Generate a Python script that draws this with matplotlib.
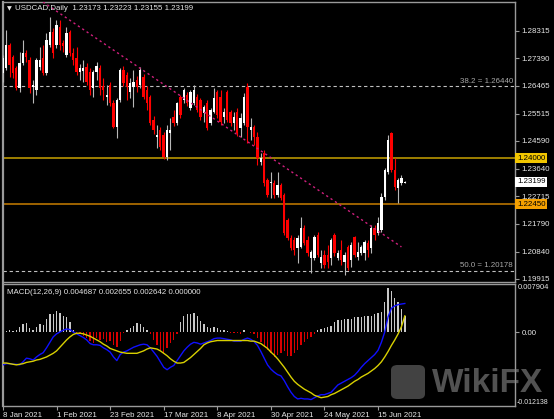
import matplotlib.pyplot as plt
import matplotlib.transforms as mtransforms
from matplotlib.patches import FancyBboxPatch
import numpy as np
import pandas as pd

plt.rcParams['font.family'] = ['Liberation Sans', 'DejaVu Sans']

# daily USDCAD candles, 8 Jan 2021 .. 25 Jun 2021
opens = [
    1.2689, 1.2706, 1.2784, 1.2743, 1.2706, 1.2638, 1.2723, 1.2757, 1.2733, 1.2642,
    1.2632, 1.2710, 1.2740, 1.2689, 1.2784, 1.2828, 1.2784, 1.2845, 1.2791, 1.2750,
    1.2828, 1.2757, 1.2740, 1.2693, 1.2696, 1.2710, 1.2693, 1.2638, 1.2693, 1.2706,
    1.2645, 1.2608, 1.2649, 1.2588, 1.2506, 1.2598, 1.2699, 1.2682, 1.2625, 1.2642,
    1.2666, 1.2649, 1.2676, 1.2632, 1.2608, 1.2530, 1.2472, 1.2496, 1.2479, 1.2405,
    1.2486, 1.2540, 1.2520, 1.2608, 1.2598, 1.2615, 1.2571, 1.2588, 1.2608, 1.2598,
    1.2554, 1.2588, 1.2520, 1.2557, 1.2625, 1.2608, 1.2540, 1.2625, 1.2557, 1.2520,
    1.2557, 1.2503, 1.2520, 1.2642, 1.2496, 1.2506, 1.2472, 1.2388, 1.2418, 1.2327,
    1.2316, 1.2316, 1.2276, 1.2310, 1.2276, 1.2191, 1.2130, 1.2123, 1.2096, 1.2100,
    1.2164, 1.2123, 1.2062, 1.2062, 1.2140, 1.2045, 1.2072, 1.2072, 1.2062, 1.2140,
    1.2062, 1.2089, 1.2049, 1.2100, 1.2056, 1.2133, 1.2066, 1.2079, 1.2079, 1.2113,
    1.2096, 1.2164, 1.2147, 1.2157, 1.2269, 1.2354, 1.2486, 1.2361, 1.2300, 1.2316,
    1.23173]
highs = [
    1.2750, 1.2835, 1.2791, 1.2750, 1.2713, 1.2760, 1.2801, 1.2767, 1.2743, 1.2666,
    1.2740, 1.2777, 1.2784, 1.2825, 1.2879, 1.2842, 1.2869, 1.2869, 1.2801, 1.2845,
    1.2835, 1.2774, 1.2777, 1.2720, 1.2733, 1.2723, 1.2706, 1.2699, 1.2726, 1.2716,
    1.2672, 1.2649, 1.2659, 1.2598, 1.2605, 1.2706, 1.2713, 1.2693, 1.2672, 1.2699,
    1.2679, 1.2710, 1.2686, 1.2645, 1.2615, 1.2544, 1.2513, 1.2506, 1.2489, 1.2513,
    1.2537, 1.2564, 1.2591, 1.2615, 1.2638, 1.2625, 1.2632, 1.2649, 1.2618, 1.2605,
    1.2581, 1.2598, 1.2571, 1.2638, 1.2632, 1.2632, 1.2571, 1.2632, 1.2564, 1.2557,
    1.2571, 1.2554, 1.2621, 1.2655, 1.2537, 1.2513, 1.2489, 1.2418, 1.2428, 1.2334,
    1.2353, 1.2327, 1.2353, 1.2316, 1.2283, 1.2198, 1.2140, 1.2133, 1.2140, 1.2201,
    1.2174, 1.2137, 1.2089, 1.2140, 1.2150, 1.2089, 1.2089, 1.2106, 1.2130, 1.2147,
    1.2089, 1.2123, 1.2083, 1.2106, 1.2116, 1.2137, 1.2116, 1.2106, 1.2123, 1.2123,
    1.2174, 1.2174, 1.2201, 1.2283, 1.2367, 1.2479, 1.2489, 1.2401, 1.2334, 1.2344,
    1.23223]
lows = [
    1.2659, 1.2699, 1.2676, 1.2672, 1.2632, 1.2625, 1.2716, 1.2726, 1.2621, 1.2588,
    1.2615, 1.2699, 1.2682, 1.2682, 1.2777, 1.2740, 1.2774, 1.2767, 1.2760, 1.2743,
    1.2747, 1.2716, 1.2682, 1.2666, 1.2659, 1.2649, 1.2615, 1.2608, 1.2666, 1.2615,
    1.2598, 1.2581, 1.2577, 1.2503, 1.2469, 1.2591, 1.2645, 1.2598, 1.2605, 1.2574,
    1.2625, 1.2638, 1.2601, 1.2564, 1.2513, 1.2483, 1.2435, 1.2428, 1.2398, 1.2394,
    1.2428, 1.2510, 1.2513, 1.2537, 1.2588, 1.2577, 1.2564, 1.2581, 1.2557, 1.2530,
    1.2523, 1.2496, 1.2513, 1.2554, 1.2537, 1.2513, 1.2520, 1.2523, 1.2510, 1.2496,
    1.2476, 1.2472, 1.2513, 1.2452, 1.2462, 1.2445, 1.2377, 1.2377, 1.2306, 1.2269,
    1.2266, 1.2266, 1.2269, 1.2259, 1.2140, 1.2123, 1.2089, 1.2072, 1.2045, 1.2096,
    1.2106, 1.2069, 1.2012, 1.2056, 1.2066, 1.2028, 1.2028, 1.2028, 1.2039, 1.2069,
    1.2056, 1.2039, 1.2005, 1.2022, 1.2032, 1.2066, 1.2056, 1.2072, 1.2056, 1.2066,
    1.2079, 1.2123, 1.2140, 1.2150, 1.2259, 1.2347, 1.2354, 1.2293, 1.2249, 1.2310,
    1.23155]
closes = [
    1.2740, 1.2784, 1.2716, 1.2689, 1.2638, 1.2723, 1.2757, 1.2743, 1.2638, 1.2649,
    1.2733, 1.2733, 1.2689, 1.2801, 1.2828, 1.2757, 1.2852, 1.2784, 1.2781, 1.2825,
    1.2757, 1.2733, 1.2693, 1.2706, 1.2706, 1.2659, 1.2632, 1.2693, 1.2713, 1.2638,
    1.2632, 1.2615, 1.2588, 1.2506, 1.2598, 1.2699, 1.2655, 1.2642, 1.2655, 1.2659,
    1.2642, 1.2699, 1.2608, 1.2588, 1.2520, 1.2496, 1.2479, 1.2438, 1.2405, 1.2496,
    1.2496, 1.2520, 1.2588, 1.2547, 1.2632, 1.2588, 1.2625, 1.2632, 1.2564, 1.2540,
    1.2574, 1.2503, 1.2564, 1.2605, 1.2547, 1.2523, 1.2557, 1.2530, 1.2520, 1.2540,
    1.2486, 1.2537, 1.2608, 1.2506, 1.2506, 1.2472, 1.2401, 1.2401, 1.2316, 1.2276,
    1.2320, 1.2276, 1.2310, 1.2266, 1.2147, 1.2130, 1.2096, 1.2089, 1.2130, 1.2164,
    1.2113, 1.2079, 1.2083, 1.2133, 1.2072, 1.2066, 1.2039, 1.2049, 1.2123, 1.2079,
    1.2079, 1.2056, 1.2072, 1.2028, 1.2106, 1.2072, 1.2083, 1.2100, 1.2116, 1.2089,
    1.2164, 1.2140, 1.2181, 1.2269, 1.2361, 1.2462, 1.2361, 1.2303, 1.2327, 1.2334,
    1.23199]

# MACD(12,26,9) panel
macd_hist = [
    -0.0009, 0.0001, 0.0003, 0.0002, 0.0004, 0.0008, 0.0013, 0.0014, 0.0007, 0.0004,
    0.0008, 0.0013, 0.0012, 0.0021, 0.0029, 0.0030, 0.0035, 0.0031, 0.0027, 0.0025,
    0.0017, 0.0004, -0.0003, -0.0004, -0.0007, -0.0010, -0.0014, -0.0018, -0.0010, -0.0013,
    -0.0011, -0.0017, -0.0014, -0.0021, -0.0025, -0.0014, -0.0001, 0.0003, 0.0006, 0.0010,
    0.0014, 0.0013, 0.0009, 0.0004, -0.0004, -0.0013, -0.0021, -0.0030, -0.0035, -0.0027,
    -0.0018, -0.0013, -0.0004, 0.0016, 0.0026, 0.0029, 0.0030, 0.0032, 0.0027, 0.0018,
    0.0013, 0.0008, 0.0007, 0.0009, 0.0007, 0.0004, 0.0003, 0.0001, -0.0001, -0.0002,
    -0.0001, -0.0003, 0.0003, 0.0000, -0.0001, -0.0004, -0.0010, -0.0017, -0.0024, -0.0030,
    -0.0035, -0.0041, -0.0038, -0.0035, -0.0032, -0.0039, -0.0039, -0.0035, -0.0030, -0.0021,
    -0.0017, -0.0011, -0.0008, -0.0003, 0.0003, 0.0005, 0.0006, 0.0008, 0.0010, 0.0017,
    0.0019, 0.0020, 0.0021, 0.0022, 0.0022, 0.0024, 0.0024, 0.0025, 0.0026, 0.0027,
    0.0027, 0.0030, 0.0031, 0.0033, 0.0050, 0.0072, 0.0068, 0.0056, 0.0050, 0.0037,
    0.002642]
macd_main = [
    -0.0054, -0.0052, -0.0052, -0.0053, -0.0053, -0.0054, -0.0049, -0.0043, -0.0044, -0.0046,
    -0.0041, -0.0037, -0.0034, -0.0026, -0.0017, -0.0008, -0.0003, 0.0000, 0.0003, 0.0005,
    0.0004, 0.0000, -0.0003, -0.0006, -0.0009, -0.0013, -0.0019, -0.0021, -0.0021, -0.0022,
    -0.0026, -0.0029, -0.0033, -0.0041, -0.0047, -0.0037, -0.0033, -0.0031, -0.0028, -0.0025,
    -0.0023, -0.0021, -0.0020, -0.0021, -0.0026, -0.0033, -0.0040, -0.0049, -0.0058, -0.0062,
    -0.0058, -0.0055, -0.0047, -0.0039, -0.0031, -0.0025, -0.0020, -0.0017, -0.0018, -0.0020,
    -0.0018, -0.0016, -0.0014, -0.0011, -0.0010, -0.0010, -0.0011, -0.0012, -0.0013, -0.0015,
    -0.0015, -0.0015, -0.0012, -0.0010, -0.0012, -0.0016, -0.0022, -0.0032, -0.0043, -0.0054,
    -0.0061, -0.0066, -0.0070, -0.0072, -0.0080, -0.0090, -0.0099, -0.0106, -0.0110, -0.0109,
    -0.0110, -0.0110, -0.0111, -0.0108, -0.0105, -0.0103, -0.0103, -0.0101, -0.0099, -0.0093,
    -0.0087, -0.0084, -0.0081, -0.0078, -0.0075, -0.0071, -0.0065, -0.0058, -0.0052, -0.0047,
    -0.0042, -0.0037, -0.0030, -0.0017, 0.0000, 0.0025, 0.0039, 0.0043, 0.0045, 0.0046,
    0.004687]
macd_signal = [
    -0.0051, -0.0051, -0.0052, -0.0053, -0.0054, -0.0053, -0.0052, -0.0050, -0.0049, -0.0048,
    -0.0046, -0.0045, -0.0043, -0.0041, -0.0038, -0.0035, -0.0031, -0.0025, -0.0019, -0.0013,
    -0.0008, -0.0004, -0.0002, -0.0002, -0.0003, -0.0005, -0.0007, -0.0010, -0.0013, -0.0016,
    -0.0020, -0.0023, -0.0027, -0.0029, -0.0031, -0.0033, -0.0034, -0.0035, -0.0035, -0.0035,
    -0.0035, -0.0033, -0.0031, -0.0028, -0.0026, -0.0027, -0.0028, -0.0031, -0.0035, -0.0039,
    -0.0044, -0.0048, -0.0051, -0.0051, -0.0050, -0.0046, -0.0042, -0.0037, -0.0032, -0.0027,
    -0.0021, -0.0018, -0.0016, -0.0015, -0.0014, -0.0014, -0.0014, -0.0014, -0.0014, -0.0014,
    -0.0014, -0.0014, -0.0014, -0.0014, -0.0015, -0.0015, -0.0017, -0.0019, -0.0023, -0.0027,
    -0.0033, -0.0038, -0.0044, -0.0051, -0.0058, -0.0066, -0.0074, -0.0081, -0.0086, -0.0090,
    -0.0094, -0.0097, -0.0100, -0.0104, -0.0106, -0.0108, -0.0107, -0.0106, -0.0103, -0.0101,
    -0.0098, -0.0095, -0.0092, -0.0089, -0.0085, -0.0081, -0.0078, -0.0074, -0.0071, -0.0068,
    -0.0064, -0.0060, -0.0055, -0.0049, -0.0041, -0.0032, -0.0022, -0.0013, -0.0003, 0.0009,
    0.002655]

price_ticks = [1.28315, 1.27390, 1.26465, 1.25515, 1.24590, 1.23640, 1.22715, 1.21790, 1.20840, 1.19915]
resistance = 1.24000
support = 1.22450
fib_levels = [("38.2", 1.26440), ("50.0", 1.20178)]
trend_idx = [12, 119]
trend_price = [1.2930, 1.2100]

n = len(closes)
x = np.arange(n)
dates = pd.bdate_range("2021-01-08", periods=n)
o = np.array(opens)
h = np.array(highs)
l = np.array(lows)
c = np.array(closes)
up = c >= o

W, H = 554, 419
fig = plt.figure(figsize=(W / 100, H / 100), dpi=100, facecolor="black")
ax = fig.add_axes([3 / W, 1 - 282 / H, 512 / W, 280 / H], facecolor="black")
ax2 = fig.add_axes([3 / W, 13 / H, 512 / W, 122 / H], facecolor="black")

txt = "#e6e6e6"
frame = "#9a9a9a"
fs = 5.7

for a in (ax, ax2):
    for s in a.spines.values():
        s.set_color(frame)
        s.set_linewidth(1.0)
    a.spines["left"].set_linewidth(1.6)
    a.set_xlim(0.05, 152.9)

# ---- price panel
ax.set_ylim(1.19811, 1.29297)
ax.vlines(x[up], l[up], h[up], color="#b8b8b8", lw=0.8, zorder=3)
ax.vlines(x[~up], l[~up], h[~up], color="#ff0000", lw=0.8, zorder=3)
body_lo = np.minimum(o, c)
body_h = np.maximum(np.abs(c - o), 0.00012)
ax.bar(x[up], body_h[up], bottom=body_lo[up], width=0.7, color="white", lw=0, zorder=4)
ax.bar(x[~up], body_h[~up], bottom=body_lo[~up], width=0.7, color="#ff0000", lw=0, zorder=4)

ax.axhline(resistance, color="#b89600", lw=1.2, zorder=2)
ax.axhline(support, color="#b87400", lw=1.2, zorder=2)
bt = mtransforms.blended_transform_factory(ax.transAxes, ax.transData)
for name, lev in fib_levels:
    ax.axhline(lev, color="#c0c0c0", lw=0.8, ls=(0, (3, 2.5)), zorder=2)
    ax.text(0.996, lev + 0.0006, f"{name} = {lev:.5f}", transform=bt,
            ha="right", va="bottom", color="#a8a8a8", fontsize=fs)
ax.plot(trend_idx, trend_price, color="#d0207e", lw=1.0, ls=(0, (1.6, 2.2)), zorder=5)

ax.set_xticks([])
ax.yaxis.tick_right()
ax.set_yticks(price_ticks)
ax.set_yticklabels([f"{p:.5f}" for p in price_ticks])
ax.tick_params(axis="y", colors=frame, labelcolor=txt, labelsize=fs, length=3, width=0.8, pad=1.5)

for lev, fc in [(resistance, "#f2c600"), (closes[-1], "white"), (support, "#f5a000")]:
    ax.text(1.004, lev, f"{lev:.5f}", transform=bt, ha="left", va="center", color="black", fontsize=fs,
            bbox=dict(boxstyle="square,pad=0.2", fc=fc, ec="none"), zorder=10, clip_on=False)

fig.text(7 / W, 1 - 9 / H, "\u25bc", color=txt, fontsize=4.5, va="center", family=["DejaVu Sans"])
fig.text(15 / W, 1 - 9 / H, f"USDCAD,Daily  {opens[-1]:.5f} {highs[-1]:.5f} {lows[-1]:.5f} {closes[-1]:.5f}",
         color=txt, fontsize=fs, va="center")

# ---- MACD panel
ax2.set_ylim(-0.01216, 0.00789)
hist = np.array(macd_hist)
cols = ["#c8c8c8" if v >= 0 else "#d80000" for v in hist]
ax2.bar(x, hist, width=0.4, color=cols, lw=0, zorder=2)
ax2.plot(x, macd_main, color="#1010ff", lw=1.0, zorder=3)
ax2.plot(x, macd_signal, color="#d8d000", lw=1.0, zorder=3)
ax2.text(0.008, 0.96, f"MACD(12,26,9) {macd_main[-1]:.6f} {macd_signal[-1]:.6f} {macd_hist[-1]:.6f} 0.000000",
         transform=ax2.transAxes, color=txt, fontsize=fs, va="top", ha="left")

ax2.yaxis.tick_right()
ax2.set_yticks([0.0])
ax2.set_yticklabels(["0.00"])
ax2.tick_params(axis="y", colors=frame, labelcolor=txt, labelsize=fs, length=3, width=0.8, pad=1.5)
at = mtransforms.blended_transform_factory(ax2.transAxes, ax2.transData)
ax2.text(1.006, 0.00789, "0.007904", transform=at, ha="left", va="top", color=txt, fontsize=5.4)
ax2.text(1.003, -0.01216, "-0.012138", transform=at, ha="left", va="bottom", color=txt, fontsize=5.0)

tick_idx = list(range(0, n, 16))
ax2.set_xticks(tick_idx)
ax2.set_xticklabels([f"{dates[i].day} {dates[i].strftime('%b %Y')}" for i in tick_idx], ha="left")
ax2.tick_params(axis="x", colors=frame, labelcolor=txt, labelsize=fs, length=3, width=0.8, pad=1)

# watermark
fig.patches.append(FancyBboxPatch((391 / W, 1 - 399 / H), 34 / W, 34 / H,
                                  boxstyle="round,pad=0,rounding_size=0.012", transform=fig.transFigure,
                                  fc="#7a7a7a", ec="none", alpha=0.55, zorder=20))
fig.text(432 / W, 1 - 383 / H, "WikiFX", color="#8a8a8a", alpha=0.6, fontsize=24, fontweight="bold",
         va="center", ha="left", zorder=21)

fig.savefig("out.png", dpi=100, facecolor="black")
